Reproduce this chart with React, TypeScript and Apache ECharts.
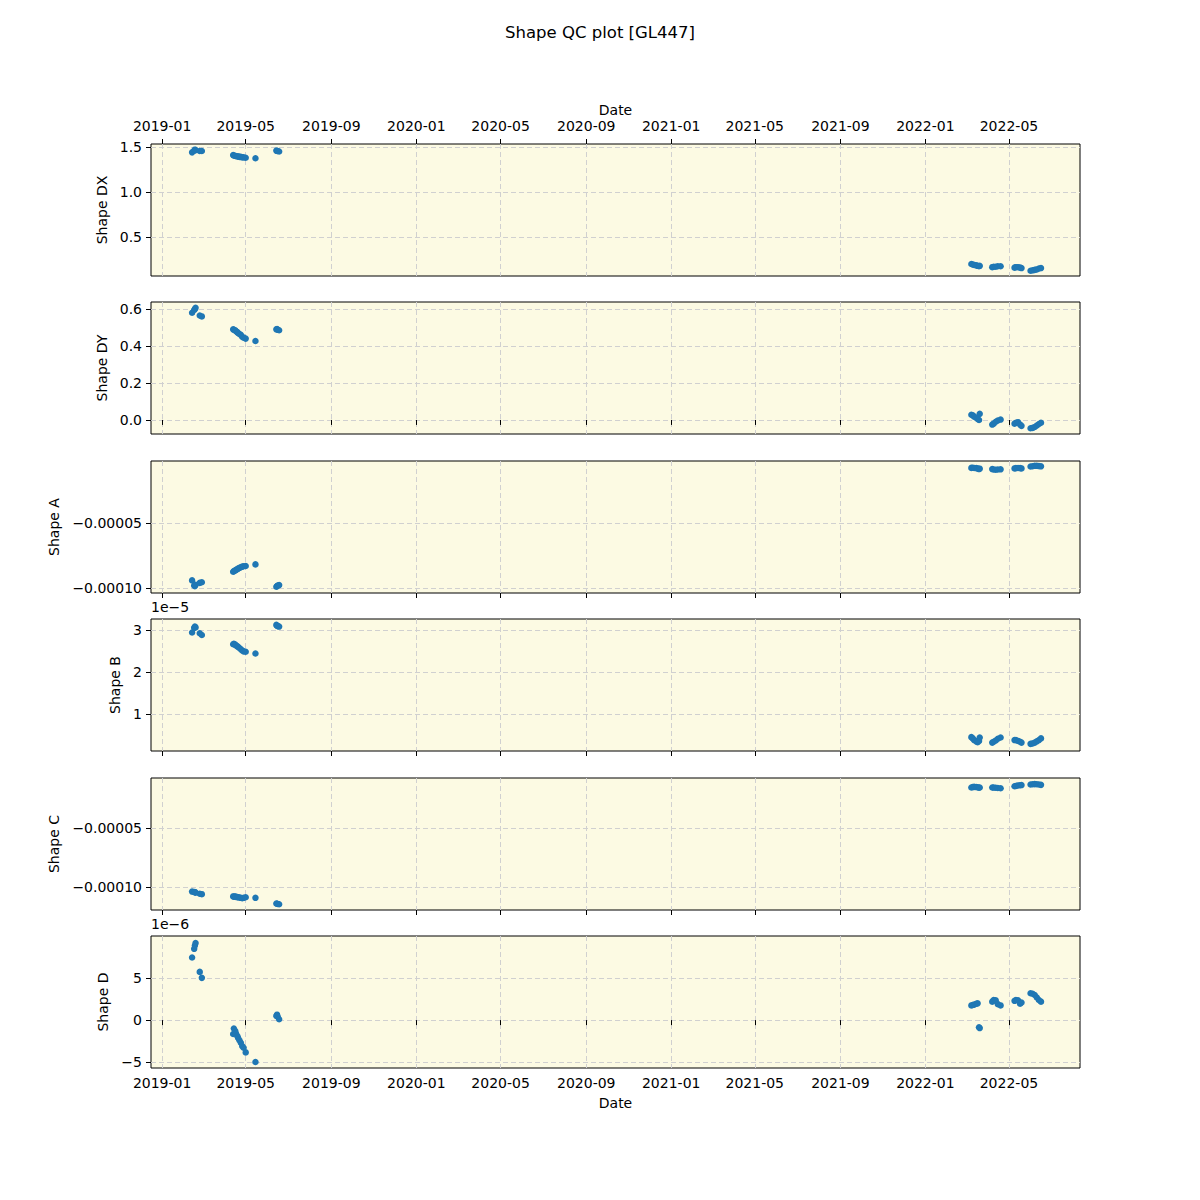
import React, { useEffect, useRef } from "react";
import * as echarts from "echarts";

const dates = [
  "2019-02-13", "2019-02-16", "2019-02-17", "2019-02-18", "2019-02-24", "2019-02-27",
  "2019-04-13", "2019-04-14", "2019-04-16", "2019-04-17", "2019-04-19", "2019-04-20", "2019-04-22", "2019-04-24", "2019-04-26", "2019-04-28", "2019-05-01",
  "2019-05-15",
  "2019-06-14", "2019-06-15", "2019-06-16", "2019-06-18",
  "2022-03-08", "2022-03-10", "2022-03-12", "2022-03-15", "2022-03-17", "2022-03-19", "2022-03-20",
  "2022-04-07", "2022-04-09", "2022-04-12", "2022-04-15", "2022-04-19",
  "2022-05-09", "2022-05-11", "2022-05-14", "2022-05-17", "2022-05-19",
  "2022-06-01", "2022-06-04", "2022-06-07", "2022-06-10", "2022-06-13", "2022-06-16",
];

const shapeDX = [
  1.44, 1.46, 1.47, 1.465, 1.455, 1.455,
  1.41, 1.405, 1.4, 1.4, 1.395, 1.395, 1.39, 1.39, 1.385, 1.385, 1.38,
  1.375,
  1.46, 1.455, 1.455, 1.45,
  0.2, 0.195, 0.19, 0.185, 0.18, 0.175, 0.18,
  0.165, 0.17, 0.17, 0.175, 0.175,
  0.16, 0.165, 0.165, 0.16, 0.155,
  0.125, 0.13, 0.135, 0.14, 0.15, 0.155,
];

const shapeDY = [
  0.58, 0.595, 0.6, 0.607, 0.565, 0.56,
  0.49, 0.488, 0.485, 0.48, 0.475, 0.47, 0.465, 0.46, 0.45, 0.445, 0.44,
  0.427,
  0.49, 0.492, 0.488, 0.485,
  0.028, 0.025, 0.018, 0.012, 0.005, 0.0, 0.033,
  -0.025, -0.02, -0.01, -0.003, 0.002,
  -0.02, -0.015, -0.012, -0.025, -0.032,
  -0.045, -0.043, -0.038, -0.03, -0.022, -0.015,
];

const shapeA = [
  -9.41e-5, -9.8e-5, -9.85e-5, -9.75e-5, -9.6e-5, -9.55e-5,
  -8.75e-5, -8.7e-5, -8.65e-5, -8.6e-5, -8.55e-5, -8.5e-5, -8.45e-5, -8.4e-5, -8.35e-5, -8.32e-5, -8.3e-5,
  -8.18e-5,
  -9.9e-5, -9.85e-5, -9.8e-5, -9.77e-5,
  -0.76e-5, -0.75e-5, -0.77e-5, -0.78e-5, -0.8e-5, -0.85e-5, -0.82e-5,
  -0.85e-5, -0.88e-5, -0.9e-5, -0.88e-5, -0.87e-5,
  -0.8e-5, -0.78e-5, -0.77e-5, -0.78e-5, -0.8e-5,
  -0.65e-5, -0.63e-5, -0.6e-5, -0.6e-5, -0.62e-5, -0.64e-5,
];

const shapeB = [
  2.94e-5, 3.05e-5, 3.08e-5, 3.06e-5, 2.92e-5, 2.88e-5,
  2.66e-5, 2.67e-5, 2.65e-5, 2.63e-5, 2.61e-5, 2.6e-5, 2.57e-5, 2.54e-5, 2.51e-5, 2.49e-5, 2.48e-5,
  2.44e-5,
  3.12e-5, 3.1e-5, 3.09e-5, 3.08e-5,
  0.45e-5, 0.42e-5, 0.38e-5, 0.35e-5, 0.33e-5, 0.36e-5, 0.44e-5,
  0.32e-5, 0.34e-5, 0.37e-5, 0.41e-5, 0.44e-5,
  0.38e-5, 0.38e-5, 0.36e-5, 0.34e-5, 0.32e-5,
  0.29e-5, 0.3e-5, 0.32e-5, 0.35e-5, 0.38e-5, 0.42e-5,
];

const shapeC = [
  -10.37e-5, -10.4e-5, -10.42e-5, -10.46e-5, -10.55e-5, -10.59e-5,
  -10.78e-5, -10.8e-5, -10.8e-5, -10.82e-5, -10.84e-5, -10.85e-5, -10.87e-5, -10.9e-5, -10.93e-5, -10.9e-5, -10.85e-5,
  -10.9e-5,
  -11.38e-5, -11.4e-5, -11.42e-5, -11.44e-5,
  -1.55e-5, -1.52e-5, -1.5e-5, -1.52e-5, -1.53e-5, -1.58e-5, -1.55e-5,
  -1.55e-5, -1.56e-5, -1.58e-5, -1.6e-5, -1.62e-5,
  -1.45e-5, -1.42e-5, -1.38e-5, -1.36e-5, -1.35e-5,
  -1.3e-5, -1.28e-5, -1.27e-5, -1.28e-5, -1.3e-5, -1.33e-5,
];

const shapeD = [
  7.46e-6, 8.5e-6, 8.9e-6, 9.2e-6, 5.75e-6, 5.04e-6,
  -1.66e-6, -1.0e-6, -1.3e-6, -1.6e-6, -1.9e-6, -2.1e-6, -2.4e-6, -2.7e-6, -3.1e-6, -3.3e-6, -3.85e-6,
  -5.0e-6,
  0.5e-6, 0.65e-6, 0.4e-6, 0.1e-6,
  1.75e-6, 1.8e-6, 1.85e-6, 1.95e-6, 2.0e-6, -0.85e-6, -0.95e-6,
  2.2e-6, 2.4e-6, 2.35e-6, 1.9e-6, 1.75e-6,
  2.3e-6, 2.4e-6, 2.35e-6, 1.95e-6, 2.1e-6,
  3.2e-6, 3.15e-6, 3.0e-6, 2.7e-6, 2.4e-6, 2.2e-6,
];

const xTickDates = [
  "2019-01-01", "2019-05-01", "2019-09-01", "2020-01-01", "2020-05-01", "2020-09-01",
  "2021-01-01", "2021-05-01", "2021-09-01", "2022-01-01", "2022-05-01",
];
const xTickLabels = [
  "2019-01", "2019-05", "2019-09", "2020-01", "2020-05", "2020-09",
  "2021-01", "2021-05", "2021-09", "2022-01", "2022-05",
];
const xMinDate = "2018-12-16";
const xMaxDate = "2022-08-11";

const panelNames = ["Shape DX", "Shape DY", "Shape A", "Shape B", "Shape C", "Shape D"];
const panelValues = [shapeDX, shapeDY, shapeA, shapeB, shapeC, shapeD];
const yTicks = [
  [0.5, 1.0, 1.5],
  [0.0, 0.2, 0.4, 0.6],
  [-1e-4, -5e-5],
  [1e-5, 2e-5, 3e-5],
  [-1e-4, -5e-5],
  [-5e-6, 0, 5e-6],
];
const yTickLabels = [
  ["0.5", "1.0", "1.5"],
  ["0.0", "0.2", "0.4", "0.6"],
  ["\u22120.00010", "\u22120.00005"],
  ["1", "2", "3"],
  ["\u22120.00010", "\u22120.00005"],
  ["\u22125", "0", "5"],
];
const yRanges = [
  [0.067, 1.533],
  [-0.076, 0.638],
  [-1.038e-4, -2.3e-6],
  [0.12e-5, 3.26e-5],
  [-1.193e-4, -7.5e-6],
  [-5.71e-6, 10.03e-6],
];
const offsetTexts = ["", "", "", "1e\u22125", "", "1e\u22126"];
const titleText = "Shape QC plot [GL447]";

const ts = (s: string) => {
  const [y, m, d] = s.split("-").map(Number);
  return Date.UTC(y, m - 1, d);
};

const FONT = "DejaVu Sans";

export default function App() {
  const ref = useRef<HTMLDivElement>(null);
  useEffect(() => {
    if (!ref.current) return;
    const chart = echarts.init(ref.current, null, { renderer: "svg" });
    const tops = [136, 294, 453, 611, 770, 928];
    const nameGaps = [33, 33, 79, 20, 79, 32];
    const xTicks = xTickDates.map(ts);
    const grids = tops.map((t) => ({
      left: 143,
      top: t,
      width: 929,
      height: 132,
      show: true,
      backgroundColor: "#fcfae3",
      borderColor: "#000",
      borderWidth: 1,
      containLabel: false,
    }));
    const xAxes = tops.map((_, i) => ({
      type: "value",
      gridIndex: i,
      min: ts(xMinDate),
      max: ts(xMaxDate),
      position: i === 0 ? "top" : "bottom",
      name: i === 0 || i === 5 ? "Date" : "",
      nameLocation: "middle",
      nameGap: i === 0 ? 27 : 28,
      nameTextStyle: { fontFamily: FONT, fontSize: 14, color: "#000" },
      axisLine: { show: false },
      axisTick: {
        show: true,
        length: 5,
        lineStyle: { color: "#000", width: 1 },
        customValues: xTicks,
      },
      axisLabel: {
        show: i === 0 || i === 5,
        customValues: xTicks,
        margin: i === 0 ? 11 : 8,
        fontFamily: FONT,
        fontSize: 14,
        color: "#000",
        formatter: (v: number) => {
          let best = 0;
          xTicks.forEach((t, k) => {
            if (Math.abs(t - v) < Math.abs(xTicks[best] - v)) best = k;
          });
          return xTickLabels[best];
        },
      },
      splitLine: {
        show: true,
        lineStyle: { color: "#d0d0d0", type: [5, 3], width: 1 },
      },
    }));
    const yAxes = tops.map((_, i) => ({
      type: "value",
      gridIndex: i,
      min: yRanges[i][0],
      max: yRanges[i][1],
      name: panelNames[i],
      nameLocation: "middle",
      nameGap: nameGaps[i],
      nameTextStyle: { fontFamily: FONT, fontSize: 14, color: "#000" },
      axisLine: { show: false },
      axisTick: {
        show: true,
        length: 5,
        lineStyle: { color: "#000", width: 1 },
        customValues: yTicks[i],
      },
      axisLabel: {
        customValues: yTicks[i],
        margin: 9,
        fontFamily: FONT,
        fontSize: 14,
        color: "#000",
        formatter: (v: number) => {
          const tk = yTicks[i];
          let best = 0;
          tk.forEach((t, k) => {
            if (Math.abs(t - v) < Math.abs(tk[best] - v)) best = k;
          });
          return yTickLabels[i][best];
        },
      },
      splitLine: {
        show: true,
        lineStyle: { color: "#d0d0d0", type: [5, 3], width: 1 },
      },
    }));
    const series = panelValues.map((vals, i) => ({
      type: "scatter",
      xAxisIndex: i,
      yAxisIndex: i,
      symbolSize: 6.5,
      itemStyle: { color: "#1f77b4", opacity: 1 },
      data: dates.map((d, k) => [ts(d), vals[k]]),
      z: 3,
    }));
    const graphics: any[] = offsetTexts
      .map((t, i) =>
        t
          ? {
              type: "text",
              left: 143,
              top: tops[i] - 19,
              style: { text: t, fontFamily: FONT, fontSize: 14, fill: "#000" },
            }
          : null
      )
      .filter(Boolean);
    graphics.push({
      type: "text",
      x: 592,
      y: 24,
      style: {
        text: titleText,
        fontFamily: FONT,
        fontSize: 16.5,
        fill: "#000",
        align: "center",
        verticalAlign: "middle",
      },
    });
    chart.setOption({
      animation: false,
      backgroundColor: "#fff",
      grid: grids,
      xAxis: xAxes,
      yAxis: yAxes,
      series,
      graphic: graphics,
    });
    return () => chart.dispose();
  }, []);
  return <div ref={ref} style={{ width: 1200, height: 1200 }} />;
}
